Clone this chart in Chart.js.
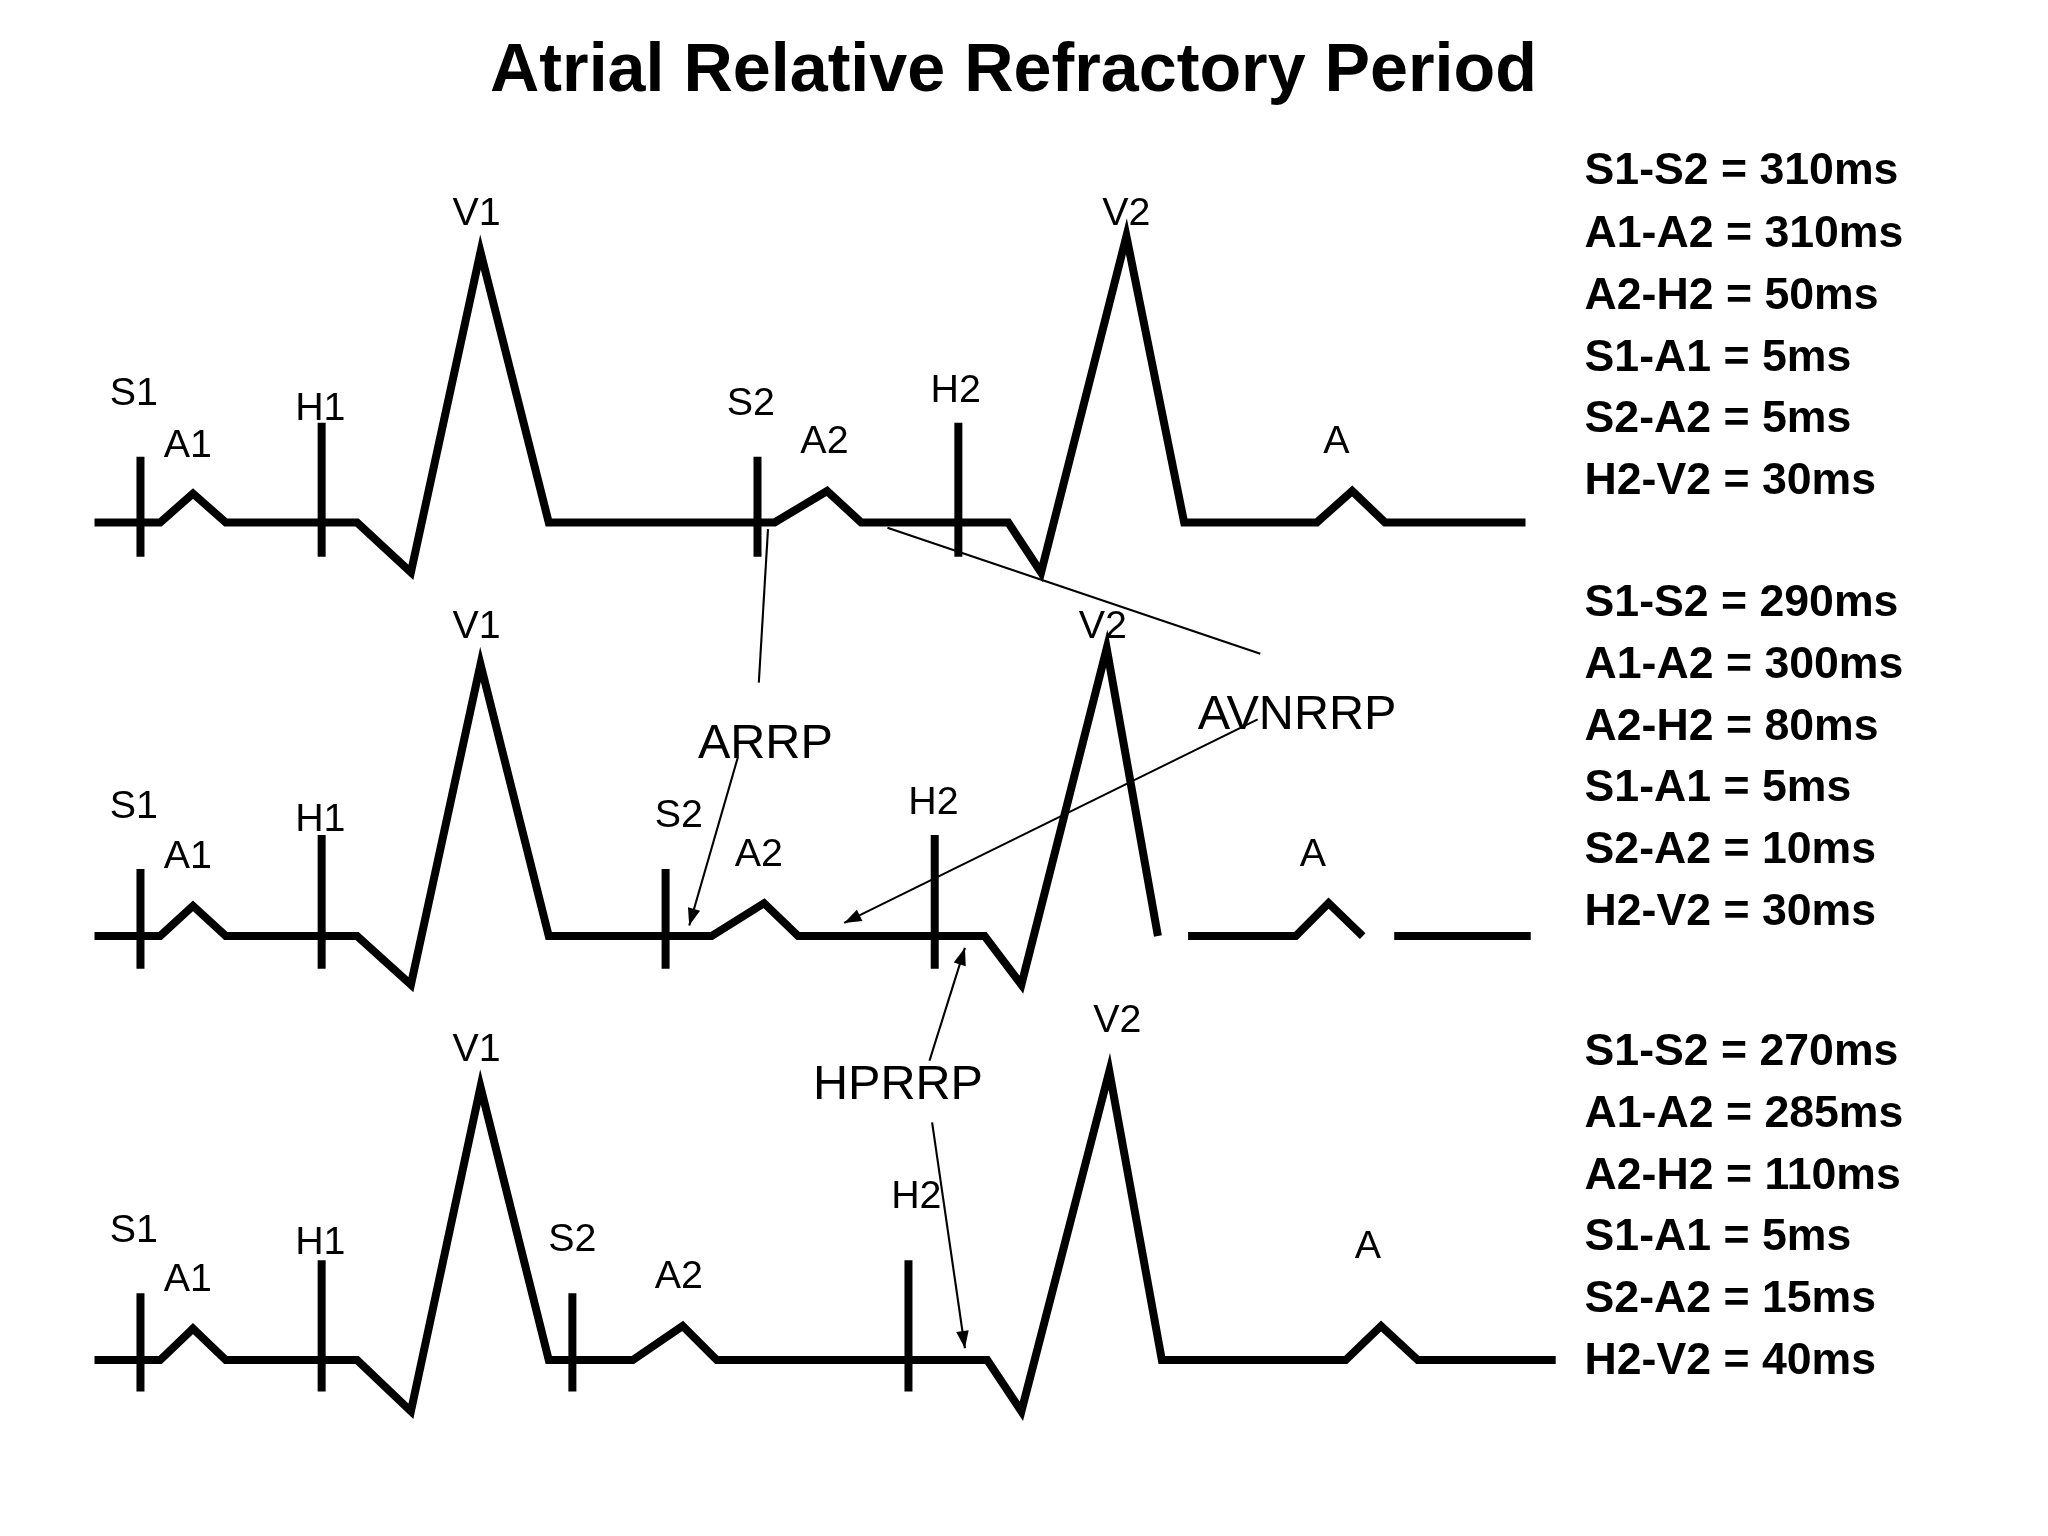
<!DOCTYPE html>
<html>
<head>
<meta charset="utf-8">
<script src="https://cdn.jsdelivr.net/npm/chart.js@4/dist/chart.umd.min.js"></script>
<style>
  html, body { margin: 0; padding: 0; background: #fff; }
  #wrap { width: 2048px; height: 1536px; }
</style>
</head>
<body>
<div id="wrap"><canvas id="ecg"></canvas></div>
<script>
// Traces (x = time-ish, y = drawing units, top = 0)
const trace1 = [[72,398],[122,398],[147,376],[172,398],[272,398],[313,436],[366,192],[418,398],[590,398],[630,374],[656,398],[768,398],[793,436],[858,180],[902,398],[1003,398],[1030,374],[1055,398],[1162,398]];
const trace2 = [[72,713],[122,713],[147,690],[172,713],[272,713],[313,750],[366,506],[418,713],[542,713],[582,688],[608,713],[750,713],[778,750],[843,494],[882,713],null,[905,713],[987,713],[1012,688],[1038,713],null,[1062,713],[1166,713]];
const trace3 = [[72,1036],[122,1036],[147,1012],[172,1036],[272,1036],[313,1075],[366,828],[418,1036],[482,1036],[520,1010],[546,1036],[752,1036],[778,1075],[845,816],[885,1036],[1025,1036],[1052,1010],[1080,1036],[1185,1036]];

// Stimulus / His markers: [x, top, bottom]
const markers = [[107,348,424],[245,322,424],[577,348,424],[730,322,424],
                 [107,662,738],[245,636,738],[507,662,738],[712,636,738],
                 [107,985,1060],[245,960,1060],[436,985,1060],[692,960,1060]];

const waveLabels = [
  ['S1',102,300],['A1',143,340],['H1',244,312],['V1',363,163],['S2',572,308],['A2',628,337],['H2',728,298],['V2',858,163],['A',1018,337],
  ['S1',102,615],['A1',143,653],['H1',244,625],['V1',363,478],['S2',517,622],['A2',578,651],['H2',711,612],['V2',840,478],['A',1000,651],
  ['S1',102,938],['A1',143,975],['H1',244,947],['V1',363,800],['S2',436,945],['A2',517,973],['H2',698,912],['V2',851,778],['A',1042,950]
];
const bigLabels = [['ARRP',583,567],['AVNRRP',988,545],['HPRRP',684,827]];
// arrows: from -> to (head at 'to'); last flag = draw head
const arrows = [[578,520,585,403,false],[562,577,525,705,true],
                [960,498,676,402,false],[958,548,643,703,true],
                [708,808,735,722,true],[710,855,735,1027,true]];

const intervalText = [
  'S1-S2 = 310ms','A1-A2 = 310ms','A2-H2 = 50ms','S1-A1 = 5ms','S2-A2 = 5ms','H2-V2 = 30ms',
  'S1-S2 = 290ms','A1-A2 = 300ms','A2-H2 = 80ms','S1-A1 = 5ms','S2-A2 = 10ms','H2-V2 = 30ms',
  'S1-S2 = 270ms','A1-A2 = 285ms','A2-H2 = 110ms','S1-A1 = 5ms','S2-A2 = 15ms','H2-V2 = 40ms'
];
const intervalY = [131,179,226,273,320,367,460,507,554,601,648,695,802,849,896,943,990,1037];

function toPts(arr) {
  return arr.map(p => p ? {x: p[0], y: p[1]} : {x: null, y: null});
}
function markerPts() {
  const out = [];
  markers.forEach(m => { out.push({x: m[0], y: m[1]}, {x: m[0], y: m[2]}, {x: null, y: null}); });
  return out;
}

const overlay = {
  id: 'overlay',
  afterDatasetsDraw(chart) {
    const c = chart.ctx, xs = chart.scales.x, ys = chart.scales.y;
    const k = chart.width / 1560;
    const px = v => xs.getPixelForValue(v), py = v => ys.getPixelForValue(v);
    c.save();
    c.fillStyle = '#000';
    c.textBaseline = 'middle';
    c.textAlign = 'center';
    c.font = 'bold ' + (52 * k) + 'px "Liberation Sans", Arial, sans-serif';
    c.fillText('Atrial Relative Refractory Period', px(772), py(55));
    c.font = (30 * k) + 'px "Liberation Sans", Arial, sans-serif';
    waveLabels.forEach(l => c.fillText(l[0], px(l[1]), py(l[2])));
    c.font = (37 * k) + 'px "Liberation Sans", Arial, sans-serif';
    bigLabels.forEach(l => c.fillText(l[0], px(l[1]), py(l[2])));
    c.textAlign = 'left';
    c.font = 'bold ' + (34 * k) + 'px "Liberation Sans", Arial, sans-serif';
    intervalText.forEach((t, i) => c.fillText(t, px(1207), py(intervalY[i])));
    c.lineWidth = 1.6 * k;
    c.strokeStyle = '#000';
    arrows.forEach(a => {
      const x0 = px(a[0]), y0 = py(a[1]), x1 = px(a[2]), y1 = py(a[3]);
      c.beginPath(); c.moveTo(x0, y0); c.lineTo(x1, y1); c.stroke();
      if (a[4]) {
        const ang = Math.atan2(y1 - y0, x1 - x0), h = 14 * k;
        c.beginPath();
        c.moveTo(x1, y1);
        c.lineTo(x1 - h * Math.cos(ang - 0.35), y1 - h * Math.sin(ang - 0.35));
        c.lineTo(x1 - h * Math.cos(ang + 0.35), y1 - h * Math.sin(ang + 0.35));
        c.closePath(); c.fill();
      }
    });
    c.restore();
  }
};

const lineStyle = { showLine: true, pointRadius: 0, borderColor: '#000', borderWidth: 8, spanGaps: false, borderJoinStyle: 'miter', fill: false };

new Chart(document.getElementById('ecg'), {
  type: 'scatter',
  data: {
    datasets: [
      Object.assign({ data: toPts(trace1) }, lineStyle),
      Object.assign({ data: toPts(trace2) }, lineStyle),
      Object.assign({ data: toPts(trace3) }, lineStyle),
      Object.assign({ data: markerPts() }, lineStyle, { borderJoinStyle: 'bevel' })
    ]
  },
  options: {
    responsive: true,
    maintainAspectRatio: false,
    animation: false,
    layout: { padding: 0 },
    plugins: { legend: { display: false }, tooltip: { enabled: false } },
    scales: {
      x: { type: 'linear', min: 0, max: 1560, display: false },
      y: { type: 'linear', min: 0, max: 1170, reverse: true, display: false }
    }
  },
  plugins: [overlay]
});
</script>
</body>
</html>
